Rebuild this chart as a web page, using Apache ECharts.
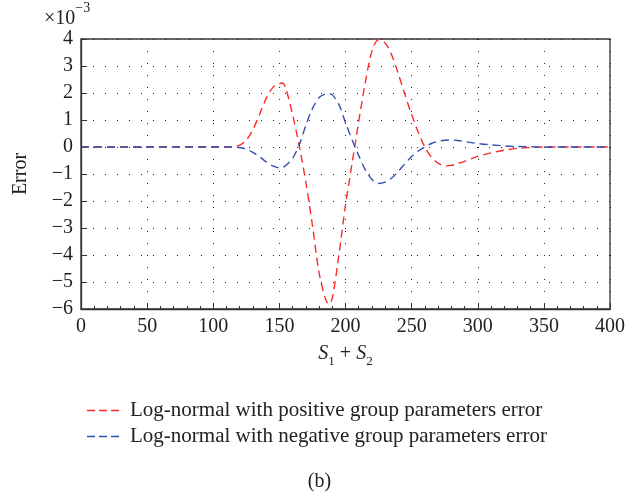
<!DOCTYPE html>
<html><head><meta charset="utf-8">
<script src="https://cdn.jsdelivr.net/npm/echarts@6/dist/echarts.min.js"></script>
<style>html,body{margin:0;padding:0;background:#fff}#c{width:639px;height:500px}</style>
</head><body><div id="c"></div>
<script>
const xs = [0, 50, 100, 110, 115, 120, 125, 130, 135, 140, 145, 150, 152.5, 155, 160, 165, 170, 175, 180, 185, 187.5, 190, 195, 200, 205, 210, 215, 220, 225, 230, 235, 240, 245, 250, 255, 260, 265, 270, 275, 280, 285, 290, 300, 310, 320, 330, 340, 350, 375, 400];
const positiveErr = [0, 0, 0, 0, 0.01, 0.07, 0.25, 0.65, 1.2, 1.8, 2.2, 2.35, 2.37, 2.15, 1.2, 0.05, -1.3, -2.9, -4.65, -5.65, -5.82, -5.6, -4.0, -2.15, -0.6, 0.95, 2.4, 3.55, 3.97, 3.85, 3.4, 2.7, 1.93, 1.2, 0.55, 0.0, -0.38, -0.6, -0.7, -0.68, -0.61, -0.53, -0.35, -0.22, -0.12, -0.05, -0.02, 0, 0, 0];
const negativeErr = [0, 0, 0, 0, 0, -0.02, -0.08, -0.2, -0.36, -0.55, -0.7, -0.77, -0.76, -0.68, -0.42, 0.08, 0.8, 1.42, 1.83, 1.97, 1.98, 1.93, 1.58, 0.9, 0.26, -0.32, -0.85, -1.2, -1.35, -1.3, -1.15, -0.9, -0.62, -0.35, -0.15, 0.0, 0.13, 0.21, 0.25, 0.26, 0.24, 0.2, 0.13, 0.08, 0.04, 0.02, 0.01, 0, 0, 0];
const xTicks = [0, 50, 100, 150, 200, 250, 300, 350, 400];
const yTicks = [-6, -5, -4, -3, -2, -1, 0, 1, 2, 3, 4];
const seriesNames = ['Log-normal with positive group parameters error', 'Log-normal with negative group parameters error'];

const FONT = 'Liberation Serif';
const TXT = '#222';
const chart = echarts.init(document.getElementById('c'));
const pair = (ys) => xs.map((x, i) => [x, ys[i]]);
const dashIcon = 'path://M0,0h8v1.6h-8z M12,0h8v1.6h-8z M24,0h8v1.6h-8z';
chart.setOption({
  animation: false,
  backgroundColor: '#fff',
  textStyle: { fontFamily: FONT },
  grid: { left: 81, right: 29, top: 39, bottom: 191, show: true, borderColor: '#333', borderWidth: 1.3, backgroundColor: 'transparent' },
  xAxis: {
    type: 'value', min: xTicks[0], max: xTicks[xTicks.length - 1], interval: 50,
    name: '{i|S}{s|1}{n| + }{i|S}{s|2}', nameLocation: 'middle', nameGap: 33,
    nameTextStyle: { rich: {
      i: { fontFamily: FONT, fontStyle: 'italic', fontSize: 20, color: TXT, lineHeight: 24 },
      n: { fontFamily: FONT, fontSize: 20, color: TXT, lineHeight: 24 },
      s: { fontFamily: FONT, fontSize: 13, color: TXT, verticalAlign: 'bottom', lineHeight: 13, padding: [0, 0, -2, 0] }
    } },
    axisLine: { show: true, onZero: false, lineStyle: { color: '#333', width: 1.3 } },
    axisTick: { show: true, inside: true, length: 6, lineStyle: { color: '#333' } },
    minorTick: { show: true, splitNumber: 5, length: 3, lineStyle: { color: '#333' } },
    axisLabel: { fontFamily: FONT, fontSize: 20, color: TXT, margin: 8 },
    splitLine: { show: true, lineStyle: { color: '#222', width: 1, type: [1, 11] } }
  },
  yAxis: {
    type: 'value', min: yTicks[0], max: yTicks[yTicks.length - 1], interval: 1,
    name: 'Error', nameLocation: 'middle', nameGap: 50, nameRotate: 90,
    nameTextStyle: { fontFamily: FONT, fontSize: 20, color: TXT },
    axisLine: { show: true, onZero: false, lineStyle: { color: '#333', width: 1.3 } },
    axisTick: { show: true, inside: true, length: 6, lineStyle: { color: '#333' } },
    axisLabel: { fontFamily: FONT, fontSize: 20, color: TXT, margin: 8,
      formatter: v => v < 0 ? '\u2212' + Math.abs(v) : String(v) },
    splitLine: { show: true, lineStyle: { color: '#222', width: 1, type: [1, 11] } }
  },
  legend: {
    orient: 'vertical', left: 82, top: 395, itemGap: 5, itemWidth: 32, itemHeight: 14,
    textStyle: { fontFamily: FONT, fontSize: 21, color: TXT, padding: [0, 0, 0, 6] },
    data: seriesNames.map(n => ({ name: n, icon: dashIcon }))
  },
  graphic: [
    { type: 'text', left: 44, top: 1, style: { text: '{a|×10}{b|−3}', rich: {
      a: { fontFamily: FONT, fontSize: 20, fill: TXT, lineHeight: 28, verticalAlign: 'bottom' },
      b: { fontFamily: FONT, fontSize: 14, fill: TXT, verticalAlign: 'top', lineHeight: 14 } } } },
    { type: 'text', left: 'center', top: 472, style: { text: '(b)', fontFamily: FONT, fontSize: 20, fill: TXT } }
  ],
  series: [
    { name: seriesNames[0], type: 'line', data: pair(positiveErr), smooth: 0.3, showSymbol: false,
      lineStyle: { color: '#ff2a2a', width: 1.4, type: [8, 5] }, itemStyle: { color: '#ff2a2a' } },
    { name: seriesNames[1], type: 'line', data: pair(negativeErr), smooth: 0.3, showSymbol: false,
      lineStyle: { color: '#3050b0', width: 1.4, type: [8, 5] }, itemStyle: { color: '#3050b0' } }
  ]
});
</script></body></html>
